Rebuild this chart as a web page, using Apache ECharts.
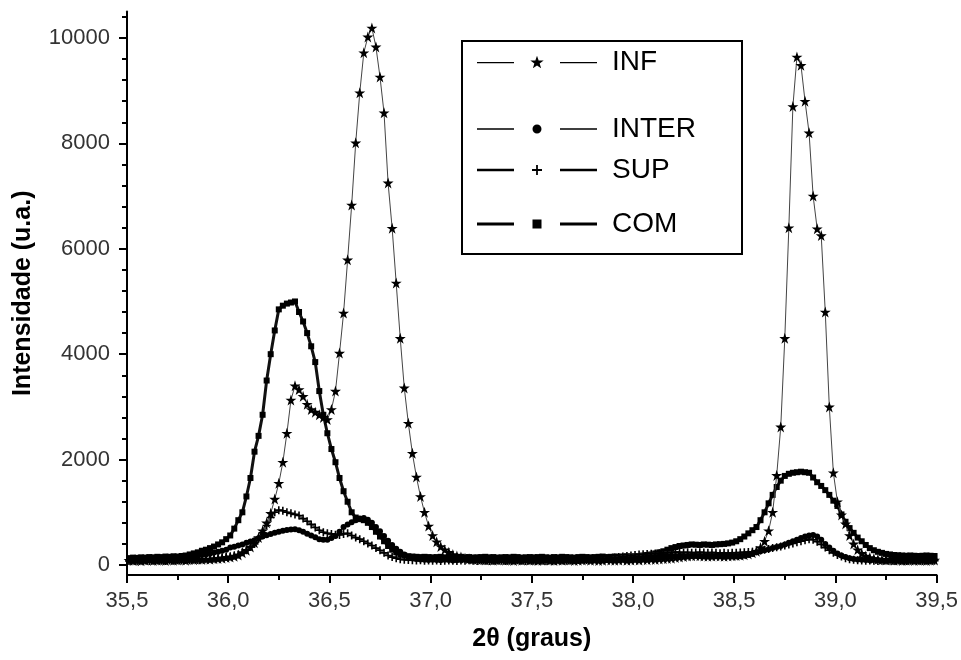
<!DOCTYPE html>
<html><head><meta charset="utf-8">
<script src="https://cdn.jsdelivr.net/npm/echarts@6/dist/echarts.min.js"></script>
<style>html,body{margin:0;padding:0;background:#fff}#c{width:961px;height:660px}</style>
</head><body><div id="c"></div>
<script>
// 2θ sampling positions (degrees)
const twoTheta = [
35.51,35.53,35.55,35.57,35.59,35.61,35.63,35.65,35.67,35.69,35.71,35.73,35.75,35.77,35.79,35.81,35.83,35.85,35.87,35.89,35.91,35.93,35.95,35.97,35.99,
36.01,36.03,36.05,36.07,36.09,36.11,36.13,36.15,36.17,36.19,36.21,36.23,36.25,36.27,36.29,36.31,36.33,36.35,36.37,36.39,36.41,36.43,36.45,36.47,36.49,
36.51,36.53,36.55,36.57,36.59,36.61,36.63,36.65,36.67,36.69,36.71,36.73,36.75,36.77,36.79,36.81,36.83,36.85,36.87,36.89,36.91,36.93,36.95,36.97,36.99,
37.01,37.03,37.05,37.07,37.09,37.11,37.13,37.15,37.17,37.19,37.21,37.23,37.25,37.27,37.29,37.31,37.33,37.35,37.37,37.39,37.41,37.43,37.45,37.47,37.49,
37.51,37.53,37.55,37.57,37.59,37.61,37.63,37.65,37.67,37.69,37.71,37.73,37.75,37.77,37.79,37.81,37.83,37.85,37.87,37.89,37.91,37.93,37.95,37.97,37.99,
38.01,38.03,38.05,38.07,38.09,38.11,38.13,38.15,38.17,38.19,38.21,38.23,38.25,38.27,38.29,38.31,38.33,38.35,38.37,38.39,38.41,38.43,38.45,38.47,38.49,
38.51,38.53,38.55,38.57,38.59,38.61,38.63,38.65,38.67,38.69,38.71,38.73,38.75,38.77,38.79,38.81,38.83,38.85,38.87,38.89,38.91,38.93,38.95,38.97,38.99,
39.01,39.03,39.05,39.07,39.09,39.11,39.13,39.15,39.17,39.19,39.21,39.23,39.25,39.27,39.29,39.31,39.33,39.35,39.37,39.39,39.41,39.43,39.45,39.47,39.49
];
const inf = [
90,85,95,80,90,100,85,90,95,85,100,90,95,100,90,105,100,110,105,115,110,120,125,130,140,
150,165,190,230,280,340,420,520,650,800,980,1250,1550,1950,2500,3130,3400,3330,3200,3050,2950,2900,2850,2800,2760,
2950,3300,4020,4780,5790,6830,8010,8960,9720,10020,10190,9830,9260,8580,7250,6390,5350,4300,3360,2690,2120,1670,1300,1000,740,
560,440,350,290,240,200,170,150,130,120,110,105,100,95,100,90,95,100,90,95,85,95,90,100,90,
95,85,90,100,90,85,95,90,100,95,85,90,95,100,90,95,85,90,100,95,90,95,100,90,95,
100,95,105,100,110,105,115,120,125,130,140,150,160,170,175,180,175,170,165,170,175,170,165,170,175,
180,185,195,210,230,260,330,450,650,1000,1700,2620,4300,6400,8700,9640,9480,8800,8200,7000,6380,6250,4800,3000,1750,
1200,950,780,560,400,290,220,170,140,120,110,100,95,100,90,95,85,90,95,85,90,95,85,90,95
];
const inter = [
90,95,85,90,100,95,90,100,105,100,110,110,120,130,135,150,160,175,190,200,215,235,250,270,290,
330,345,370,390,420,445,470,505,540,565,590,610,630,650,665,675,680,660,630,595,560,525,490,480,480,
510,550,630,720,770,810,850,880,890,860,800,720,640,550,460,380,310,250,200,160,130,115,105,100,95,
100,95,90,100,95,85,90,95,100,90,85,95,90,100,95,90,85,95,90,100,95,90,85,95,100,
90,95,100,90,85,95,100,95,90,85,95,90,100,95,90,95,100,90,95,100,105,100,110,105,115,
120,125,130,140,145,150,160,165,170,175,170,175,170,165,170,175,170,165,170,160,165,170,160,165,160,
160,165,175,190,210,240,260,280,300,320,340,360,390,420,450,480,510,540,560,570,540,480,400,330,270,
220,180,150,130,115,105,100,95,90,100,95,90,85,95,90,100,95,85,90,95,90,100,95,90,95
];
const sup = [
75,80,70,80,85,75,80,85,80,75,85,80,90,85,95,90,100,95,105,110,115,120,130,140,150,
160,180,200,240,280,340,400,500,610,750,900,1000,1040,1030,1000,980,960,940,880,830,770,710,660,620,600,
590,575,570,590,600,560,520,490,450,410,370,320,280,230,180,150,130,110,100,95,90,85,90,80,85,
80,85,75,80,85,80,75,85,80,90,80,75,85,80,75,80,85,80,75,80,85,90,80,75,85,
80,85,80,75,85,80,90,85,80,85,90,95,100,95,105,110,115,120,125,130,140,150,160,170,180,
190,200,205,210,215,220,225,230,235,240,245,240,235,240,230,235,240,235,230,235,230,225,230,225,230,
230,235,240,245,250,260,275,290,305,320,335,350,370,390,410,430,450,470,490,480,440,390,330,280,230,
190,160,130,110,100,90,85,80,85,80,75,80,85,80,75,85,80,75,80,85,80,75,80,85,80
];
const com = [
130,140,135,145,140,150,145,155,150,160,155,165,160,170,180,200,220,240,270,290,320,350,390,430,490,
560,690,850,1000,1300,1650,2150,2450,2850,3500,4000,4450,4850,4920,4960,4980,5000,4800,4620,4400,4150,3850,3300,2850,2500,
2200,1950,1650,1400,1200,1000,900,870,850,800,720,630,540,450,360,290,240,200,180,165,160,155,150,155,150,
145,150,155,145,150,140,150,155,145,150,140,145,150,155,145,150,140,145,150,145,155,150,140,145,150,
145,150,155,145,140,150,145,155,150,145,140,150,155,150,145,150,155,160,150,155,160,155,160,165,160,
165,170,180,190,200,220,240,260,290,320,340,360,370,380,390,385,380,390,385,380,390,395,400,410,425,
450,490,540,600,660,720,850,1000,1170,1330,1480,1600,1690,1730,1750,1760,1770,1760,1750,1660,1570,1500,1420,1330,1220,
1120,960,820,700,610,520,450,380,320,280,250,230,210,200,190,185,180,175,180,175,170,175,180,175,170
];
const seriesNames = ['INF', 'INTER', 'SUP', 'COM'];
const yMajorTicks = [0, 2000, 4000, 6000, 8000, 10000];
const yMinorTicks = [400, 800, 1200, 1600, 2400, 2800, 3200, 3600, 4400, 4800, 5200, 5600, 6400, 6800, 7200, 7600, 8400, 8800, 9200, 9600, 10400];
const xTitle = '2θ (graus)';
const yTitle = 'Intensidade (u.a.)';

const FONT = '"Liberation Sans", Arial, sans-serif';
const STAR = 'path://M50,0L61.8,35.1L98.9,35.1L68.8,56.9L80.2,91.9L50,70.2L19.8,91.9L31.2,56.9L1.1,35.1L38.2,35.1Z';
const PLUS = 'path://M4,0H6V4H10V6H6V10H4V6H0V4H4Z';

// legend icons: segment - marker - segment (with gaps), drawn in a 120px wide box
const LEG_INF = 'path://M0,6.3H37V7.7H0Z M83,6.3H120V7.7H83Z M60,0L61.65,4.73L66.66,4.84L62.66,7.87L64.11,12.66L60,9.8L55.89,12.66L57.34,7.87L53.34,4.84L58.35,4.73Z';
const LEG_INTER = 'path://M0,4.3H37V5.7H0Z M83,4.3H120V5.7H83Z M55.5,5A4.5,4.5,0,1,0,64.5,5A4.5,4.5,0,1,0,55.5,5Z';
const LEG_SUP = 'path://M0,3.8H37V6.2H0Z M83,3.8H120V6.2H83Z M59.1,0H60.9V4.1H65V5.9H60.9V10H59.1V5.9H55V4.1H59.1Z';
const LEG_COM = 'path://M0,3.4H37V6.6H0Z M83,3.4H120V6.6H83Z M55.5,0.5H64.5V9.5H55.5Z';

function pairs(ys) { return twoTheta.map((x, i) => [x, ys[i]]); }

const chart = echarts.init(document.getElementById('c'), null, { renderer: 'canvas' });
const Y_MIN = -190, Y_MAX = 10500;

const styles = [
  { data: inf,   symbol: STAR,     size: 11, lw: 1,   lc: '#444' },
  { data: inter, symbol: 'circle', size: 6,  lw: 1.5, lc: '#222' },
  { data: sup,   symbol: PLUS,     size: 8,  lw: 2,   lc: '#555' },
  { data: com,   symbol: 'rect',   size: 6,  lw: 3,   lc: '#111' }
];

const legendIcons = [LEG_INF, LEG_INTER, LEG_SUP, LEG_COM];
const legendIconH = [13, 9, 10, 9];
const legendTops = [48, 115, 156, 210];

chart.setOption({
  animation: false,
  backgroundColor: '#fff',
  grid: { left: 127, right: 24, top: 11.6, bottom: 85, containLabel: false },
  xAxis: {
    type: 'value', min: 35.5, max: 39.5, interval: 0.5,
    name: xTitle, nameLocation: 'middle', nameGap: 52,
    nameTextStyle: { fontFamily: FONT, fontSize: 25, fontWeight: 'bold', color: '#000' },
    axisLine: { show: true, onZero: false, lineStyle: { color: '#000', width: 2 } },
    axisTick: { show: true, inside: false, length: 8, lineStyle: { color: '#000', width: 2 } },
    minorTick: { show: true, splitNumber: 2, length: 5, lineStyle: { color: '#000', width: 2 } },
    axisLabel: { fontFamily: FONT, fontSize: 22, color: '#333', margin: 15,
      formatter: v => v.toFixed(1).replace('.', ',') },
    splitLine: { show: false }
  },
  yAxis: [{
    type: 'value', min: Y_MIN, max: Y_MAX, position: 'left',
    name: yTitle, nameLocation: 'middle', nameGap: 91, nameRotate: 90,
    nameTextStyle: { fontFamily: FONT, fontSize: 25, fontWeight: 'bold', color: '#000' },
    axisLine: { show: true, onZero: false, lineStyle: { color: '#000', width: 2 } },
    axisTick: { show: true, inside: false, length: 8, customValues: yMajorTicks, lineStyle: { color: '#000', width: 2 } },
    axisLabel: { fontFamily: FONT, fontSize: 22, color: '#333', margin: 17, customValues: yMajorTicks,
      formatter: v => String(v) },
    splitLine: { show: false }
  }, {
    type: 'value', min: Y_MIN, max: Y_MAX, position: 'left', offset: 0,
    axisLine: { show: false },
    axisTick: { show: true, inside: false, length: 5, customValues: yMinorTicks, lineStyle: { color: '#000', width: 2 } },
    axisLabel: { show: false },
    splitLine: { show: false }
  }],
  legend: seriesNames.map((n, i) => ({
    data: [{ name: n, icon: legendIcons[i] }], left: 477, top: legendTops[i], padding: 0,
    itemWidth: 120, itemHeight: legendIconH[i], selectedMode: false,
    itemStyle: { color: '#000' },
    textStyle: { fontFamily: FONT, fontSize: 28, color: '#000', padding: [0, 0, 0, 10] }
  })),
  graphic: [{
    type: 'rect', left: 461, top: 40, z: 100,
    shape: { width: 280, height: 213 },
    style: { fill: 'transparent', stroke: '#000', lineWidth: 2 }
  }],
  series: styles.map((s, i) => ({
    name: seriesNames[i], type: 'line', yAxisIndex: 0,
    data: pairs(s.data),
    symbol: s.symbol, symbolSize: s.size, showSymbol: true,
    lineStyle: { color: s.lc, width: s.lw },
    itemStyle: { color: '#000' },
    z: 10 - i
  }))
});
</script></body></html>
